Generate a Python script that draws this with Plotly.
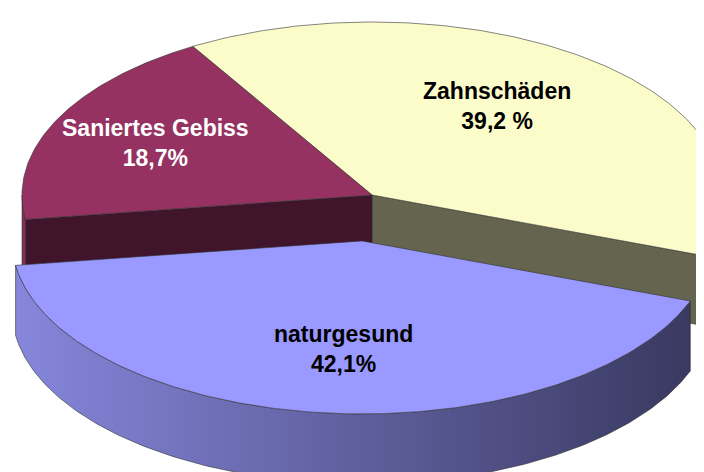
import numpy as np
import plotly.graph_objects as go

# ---- data ----
labels = ["Zahnschäden", "naturgesund", "Saniertes Gebiss"]
values = [39.2, 42.1, 18.7]
value_texts = ["39,2 %", "42,1%", "18,7%"]

# ---- styling ----
top_colors = ["#FCFCCA", "#9999FF", "#953262"]
cut_colors = ["#65654F", "#5E5EA0", "#40142A"]
wall_gradients = [["#6A6A54", "#63634D"], ["#8686DC", "#393961"], ["#8E2E5E", "#7C2852"]]
explode = [0.0, 0.267, 0.0]
label_colors = ["black", "black", "white"]
label_r = [0.6, 0.68, 0.66]
label_dx = [-9, 7, -8]
label_dy = [-9, -9, -3]

# projection of the pseudo-3D pie (pixel-like plot units)
CX, CY = 364.0, 187.0
RX, RY = 350.0, 173.0
DEPTH = 70.0
START = 120.8
EDGE = "rgba(50,50,50,0.75)"

total = float(sum(values))
bounds = []
acc = 0.0
for v in values:
    hi = START - 360.0 * acc / total
    acc += v
    lo = START - 360.0 * acc / total
    bounds.append((lo, hi))


def offset(i):
    lo, hi = bounds[i]
    m = np.radians((lo + hi) / 2)
    e = explode[i]
    return e * RX * np.cos(m), -e * RY * np.sin(m)


def arc(t0, t1, h, off, n=None):
    if n is None:
        n = max(3, int(abs(t1 - t0) * 1.5))
    t = np.radians(np.linspace(t0, t1, n))
    x = CX + off[0] + RX * np.cos(t)
    y = CY + off[1] - RY * np.sin(t) + h * DEPTH
    return list(x), list(y)


def center(h, off):
    return CX + off[0], CY + off[1] + h * DEPTH


fig = go.Figure()


def poly(xs, ys, color=None, grad=None):
    kw = dict(x=xs + [xs[0]], y=ys + [ys[0]], mode="lines", fill="toself",
              line=dict(color=EDGE, width=0.8), hoverinfo="skip", showlegend=False)
    if grad is not None:
        kw["fillgradient"] = dict(type="horizontal",
                                  colorscale=[[0, grad[0]], [1, grad[1]]])
    else:
        kw["fillcolor"] = color
    fig.add_trace(go.Scatter(**kw))


n = len(values)
order = sorted(range(n), key=lambda i: explode[i])
for i in order:
    lo, hi = bounds[i]
    off = offset(i)
    # cut faces
    for th, nb, vis in ((lo, (i + 1) % n, np.cos(np.radians(lo)) > 0),
                        (hi, (i - 1) % n, np.cos(np.radians(hi)) < 0)):
        if vis and (explode[i] > 0 or explode[nb] > 0):
            c0 = center(0, off)
            c1 = center(1, off)
            rx0, ry0 = arc(th, th, 0, off, 1)
            rx1, ry1 = arc(th, th, 1, off, 1)
            poly([c0[0], rx0[0], rx1[0], c1[0]], [c0[1], ry0[0], ry1[0], c1[1]],
                 color=cut_colors[i])
    # outer front walls
    for k in range(-2, 3):
        a0 = max(lo, -180 + 360 * k)
        a1 = min(hi, 360 * k)
        if a1 > a0:
            tx, ty = arc(a0, a1, 0, off)
            bx, by = arc(a1, a0, 1, off)
            poly(tx + bx, ty + by, grad=wall_gradients[i])
    # top face
    ax, ay = arc(hi, lo, 0, off)
    c0 = center(0, off)
    poly([c0[0]] + ax, [c0[1]] + ay, color=top_colors[i])

# labels
for i in range(n):
    lo, hi = bounds[i]
    off = offset(i)
    m = np.radians((lo + hi) / 2)
    x = CX + off[0] + RX * label_r[i] * np.cos(m) + label_dx[i]
    y = CY + off[1] - RY * label_r[i] * np.sin(m) + label_dy[i]
    fig.add_annotation(x=x, y=y, xref="x", yref="y", showarrow=False,
                       text=f"<b>{labels[i]}<br>{value_texts[i]}</b>",
                       font=dict(family="Liberation Sans, Arial, sans-serif",
                                 size=23, color=label_colors[i]),
                       align="center")

fig.update_xaxes(range=[0, 704], visible=False, fixedrange=True)
fig.update_yaxes(range=[472, 0], visible=False, fixedrange=True)
fig.update_layout(width=704, height=472, autosize=False,
                  margin=dict(l=0, r=0, t=0, b=0),
                  plot_bgcolor="white", paper_bgcolor="white",
                  showlegend=False, hovermode=False)

fig.write_html("out.html")
